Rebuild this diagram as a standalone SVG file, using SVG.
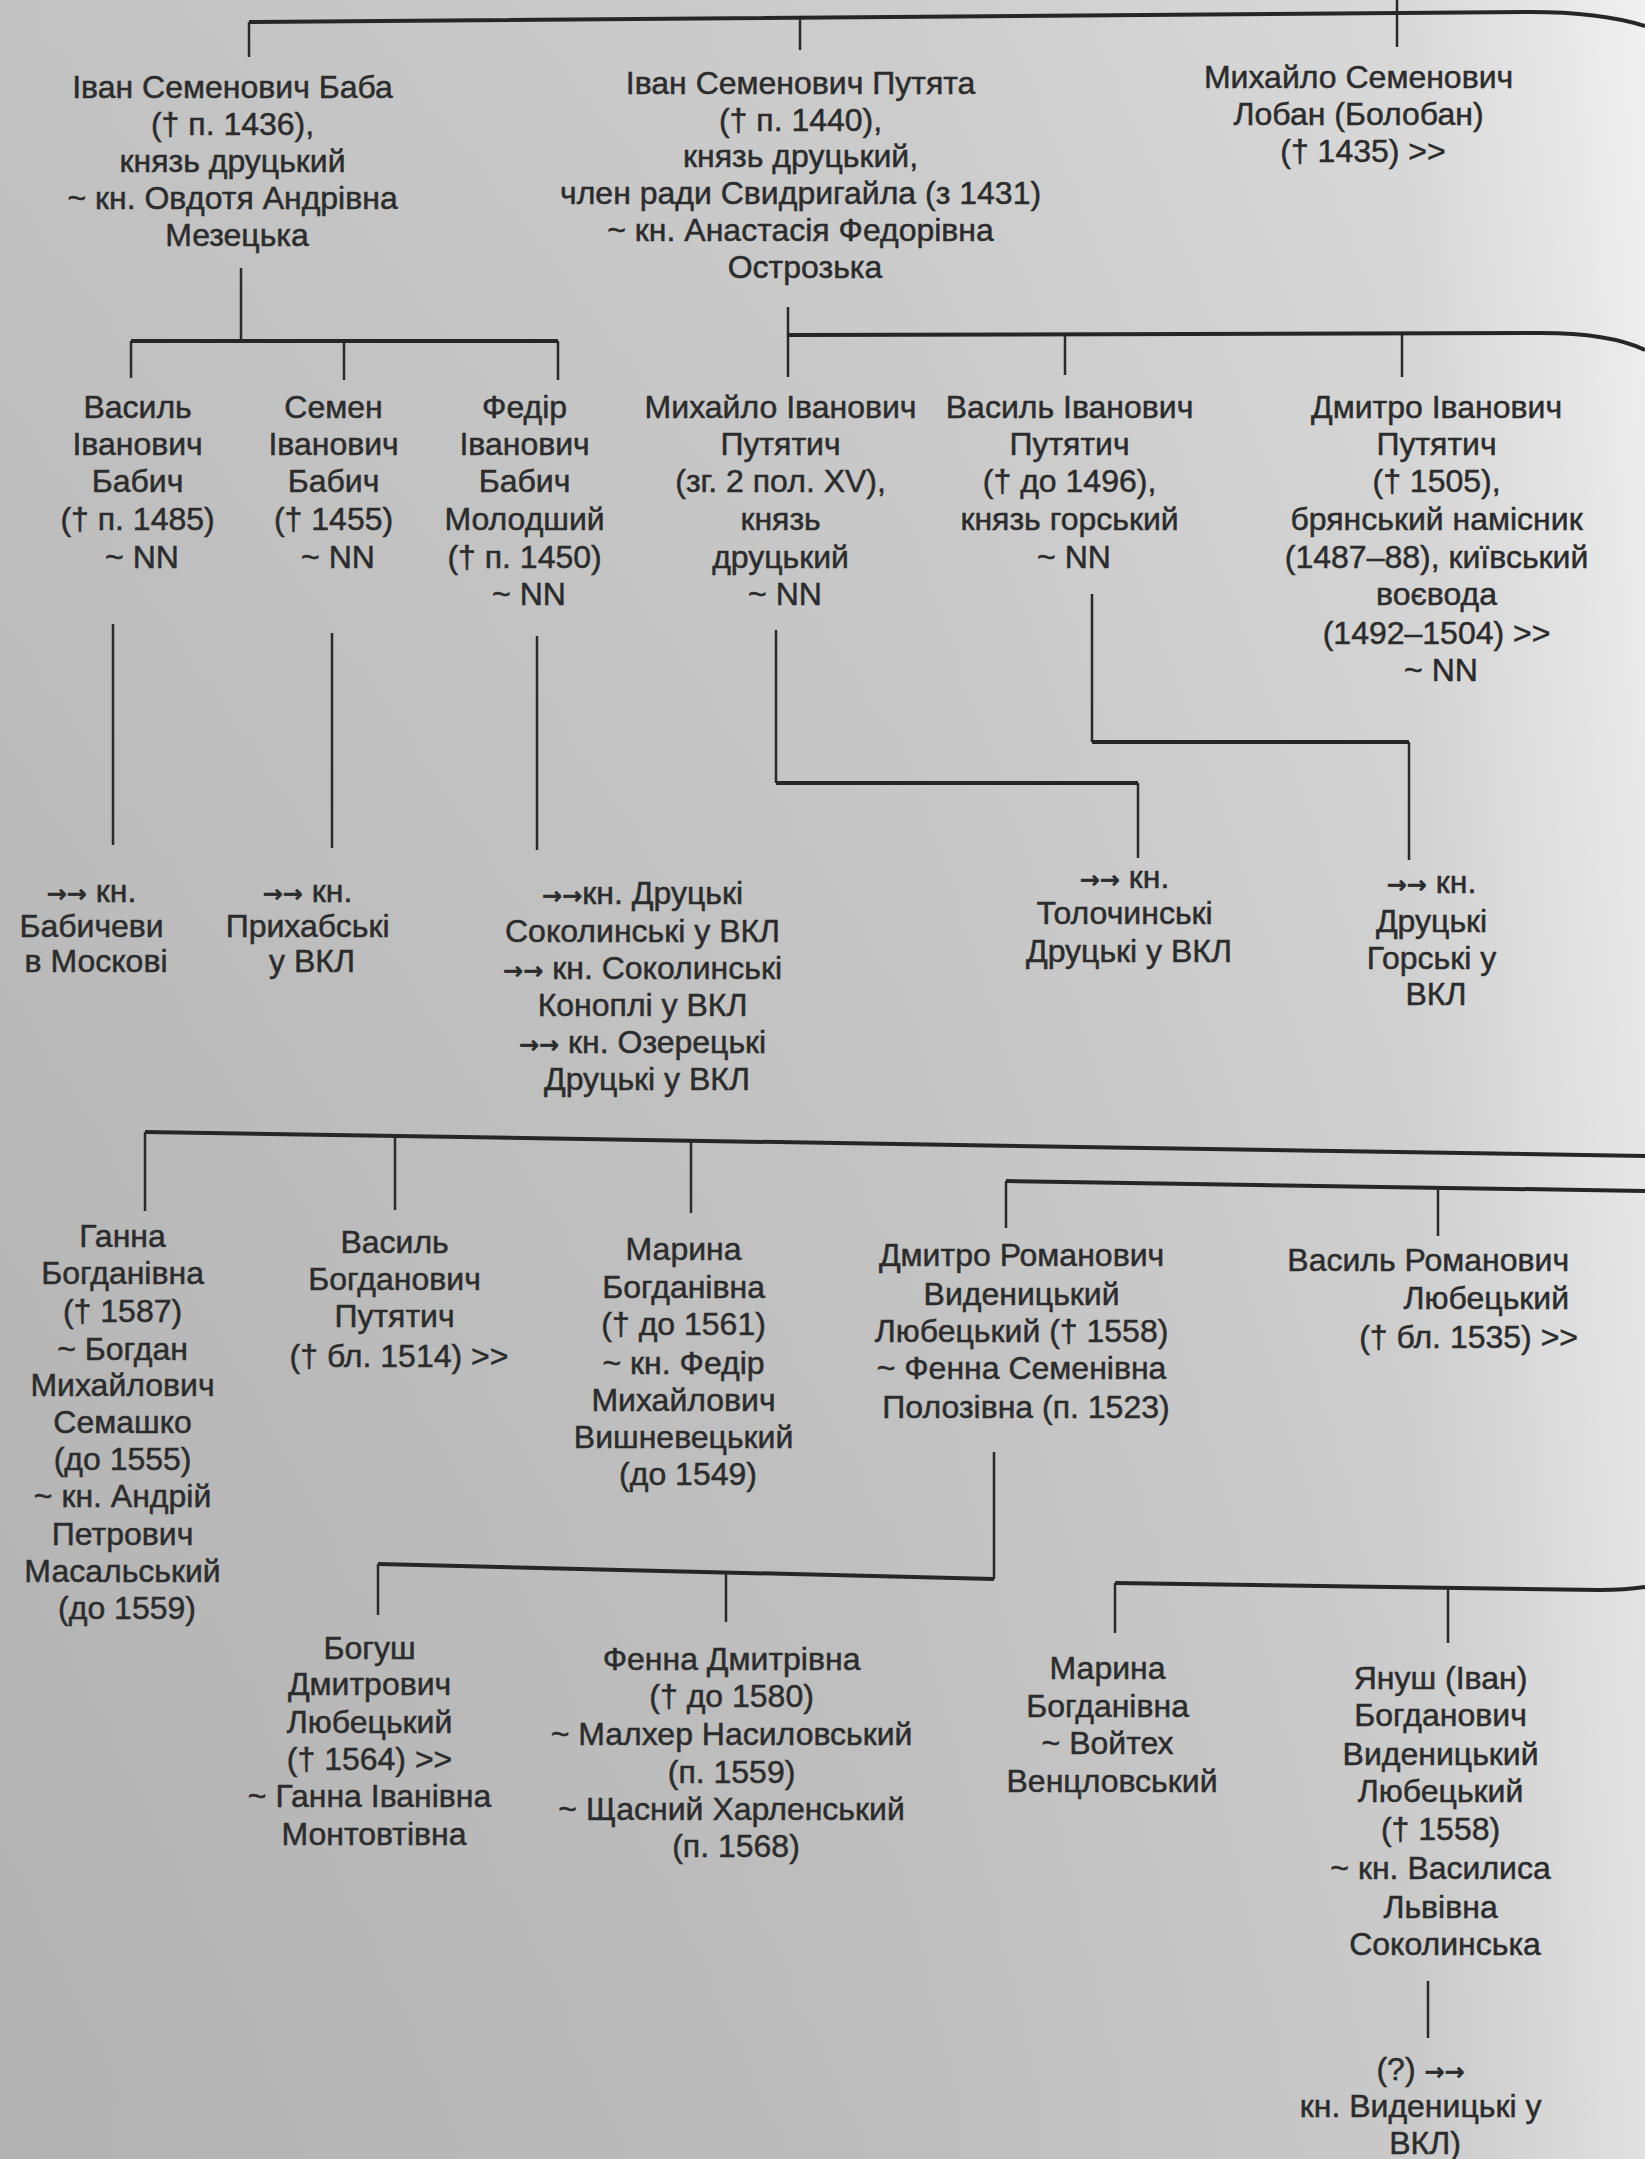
<svg xmlns="http://www.w3.org/2000/svg" width="1645" height="2159" viewBox="0 0 1645 2159">
<defs>
<linearGradient id="bg" x1="0" y1="0" x2="1" y2="0">
<stop offset="0" stop-color="#bdbdbd"/>
<stop offset="0.55" stop-color="#c9c9c9"/>
<stop offset="0.86" stop-color="#d6d6d6"/>
<stop offset="1" stop-color="#efefef"/>
</linearGradient>
<linearGradient id="bgv" x1="0" y1="0" x2="0" y2="1">
<stop offset="0" stop-color="#ffffff" stop-opacity="0.08"/>
<stop offset="1" stop-color="#000000" stop-opacity="0.06"/>
</linearGradient>
<style>
.t{font-family:"Liberation Sans",Arial,sans-serif;font-size:32px;fill:#2c2c2c;stroke:#2c2c2c;stroke-width:0.5;text-anchor:middle}
.e{text-anchor:end}
.a{font-family:"DejaVu Sans",sans-serif;font-size:24px;font-weight:bold}
.c{fill:none;stroke:#2a2a2a;stroke-width:2.5}
.h{fill:none;stroke:#262626;stroke-width:4}
</style>
</defs>
<rect width="1645" height="2159" fill="url(#bg)"/>
<rect width="1645" height="2159" fill="url(#bgv)"/>

<g id="connectors">
<path class="h" d="M249,22 L1530,12 Q1600,12 1645,26"/>
<path class="c" d="M249,57 V22 M800,19 V50 M1397,0 V47"/>
<path class="c" d="M241,268 V341 M131,378 V341 M558,380 V341 M344,341 V380"/>
<path class="h" d="M131,341 H558"/>
<path class="c" d="M788,307 V377 M1065,333 V375 M1402,333 V377"/>
<path class="h" d="M788,335 L1540,333 Q1610,333 1645,350"/>
<path class="c" d="M113,624 V845 M332,633 V848 M537,636 V850"/>
<path class="c" d="M776,630 V783 M1138,783 V858"/>
<path class="h" d="M776,783 H1138"/>
<path class="c" d="M1092,594 V742 M1409,742 V860"/>
<path class="h" d="M1092,742 H1409"/>
<path class="h" d="M145,1132 L1645,1156"/>
<path class="c" d="M145,1132 V1211 M395,1136 V1210 M691,1141 V1213"/>
<path class="h" d="M1006,1181 L1645,1191"/>
<path class="c" d="M1006,1181 V1228 M1438,1186 V1236"/>
<path class="h" d="M994,1579 L378,1564"/>
<path class="c" d="M994,1452 V1579 M378,1564 V1615 M726,1572 V1622"/>
<path class="h" d="M1115,1583 L1600,1590 Q1625,1590 1645,1587"/>
<path class="c" d="M1115,1583 V1633 M1448,1588 V1643"/>
<path class="c" d="M1428,1981 V2038"/>
</g>

<g id="n-ivan-baba"><text class="t">
<tspan x="237" y="98">Іван Семенович Баба</tspan>
<tspan x="237" y="135">(† п. 1436),</tspan>
<tspan x="237" y="172">князь друцький</tspan>
<tspan x="237" y="209">~ кн. Овдотя Андрівна</tspan>
<tspan x="237" y="246">Мезецька</tspan>
</text></g>

<g id="n-ivan-putyata"><text class="t">
<tspan x="805" y="94">Іван  Семенович Путята</tspan>
<tspan x="805" y="131">(† п. 1440),</tspan>
<tspan x="805" y="167">князь друцький,</tspan>
<tspan x="805" y="204">член ради Свидригайла (з 1431)</tspan>
<tspan x="805" y="241">~ кн. Анастасія Федорівна</tspan>
<tspan x="805" y="278">Острозька</tspan>
</text></g>

<g id="n-mykhailo-loban"><text class="t">
<tspan x="1363" y="88">Михайло Семенович</tspan>
<tspan x="1363" y="125">Лобан (Болобан)</tspan>
<tspan x="1363" y="162">(† 1435) &gt;&gt;</tspan>
</text></g>

<g id="n-vasyl-babych"><text class="t">
<tspan x="142" y="418">Василь</tspan>
<tspan x="142" y="455">Іванович</tspan>
<tspan x="142" y="492">Бабич</tspan>
<tspan x="142" y="530">(† п. 1485)</tspan>
<tspan x="142" y="568">~ NN</tspan>
</text></g>

<g id="n-semen-babych"><text class="t">
<tspan x="338" y="418">Семен</tspan>
<tspan x="338" y="455">Іванович</tspan>
<tspan x="338" y="492">Бабич</tspan>
<tspan x="338" y="530">(† 1455)</tspan>
<tspan x="338" y="568">~ NN</tspan>
</text></g>

<g id="n-fedir-babych"><text class="t">
<tspan x="529" y="418">Федір</tspan>
<tspan x="529" y="455">Іванович</tspan>
<tspan x="529" y="492">Бабич</tspan>
<tspan x="529" y="530">Молодший</tspan>
<tspan x="529" y="568">(† п. 1450)</tspan>
<tspan x="529" y="605">~ NN</tspan>
</text></g>

<g id="n-mykhailo-putyatych"><text class="t">
<tspan x="785" y="418">Михайло Іванович</tspan>
<tspan x="785" y="455">Путятич</tspan>
<tspan x="785" y="492">(зг. 2 пол. XV),</tspan>
<tspan x="785" y="530">князь</tspan>
<tspan x="785" y="568">друцький</tspan>
<tspan x="785" y="605">~ NN</tspan>
</text></g>

<g id="n-vasyl-putyatych"><text class="t">
<tspan x="1074" y="418">Василь Іванович</tspan>
<tspan x="1074" y="455">Путятич</tspan>
<tspan x="1074" y="492">(† до 1496),</tspan>
<tspan x="1074" y="530">князь горський</tspan>
<tspan x="1074" y="568">~ NN</tspan>
</text></g>

<g id="n-dmytro-putyatych"><text class="t">
<tspan x="1441" y="418">Дмитро Іванович</tspan>
<tspan x="1441" y="455">Путятич</tspan>
<tspan x="1441" y="492">(†  1505),</tspan>
<tspan x="1441" y="530">брянський намісник</tspan>
<tspan x="1441" y="568">(1487–88),  київський</tspan>
<tspan x="1441" y="605">воєвода</tspan>
<tspan x="1441" y="644">(1492–1504) &gt;&gt;</tspan>
<tspan x="1441" y="681">~ NN</tspan>
</text></g>

<g id="n-babychevy"><text class="t">
<tspan x="96" y="902"><tspan class="a">→→</tspan> кн.</tspan>
<tspan x="96" y="937">Бабичеви</tspan>
<tspan x="96" y="972">в Москові</tspan>
</text></g>

<g id="n-prykhabski"><text class="t">
<tspan x="312" y="902"><tspan class="a">→→</tspan> кн.</tspan>
<tspan x="312" y="937">Прихабські</tspan>
<tspan x="312" y="972">у ВКЛ</tspan>
</text></g>

<g id="n-sokolynski"><text class="t">
<tspan x="647" y="904"><tspan class="a">→→</tspan>кн. Друцькі</tspan>
<tspan x="647" y="942">Соколинські у ВКЛ</tspan>
<tspan x="647" y="979"><tspan class="a">→→</tspan> кн. Соколинські</tspan>
<tspan x="647" y="1016">Коноплі у ВКЛ</tspan>
<tspan x="647" y="1053"><tspan class="a">→→</tspan> кн. Озерецькі</tspan>
<tspan x="647" y="1090">Друцькі у ВКЛ</tspan>
</text></g>

<g id="n-tolochynski"><text class="t">
<tspan x="1129" y="888"><tspan class="a">→→</tspan> кн.</tspan>
<tspan x="1129" y="924">Толочинські</tspan>
<tspan x="1129" y="962">Друцькі у ВКЛ</tspan>
</text></g>

<g id="n-horski"><text class="t">
<tspan x="1436" y="893"><tspan class="a">→→</tspan> кн.</tspan>
<tspan x="1436" y="932">Друцькі</tspan>
<tspan x="1436" y="969">Горські у</tspan>
<tspan x="1436" y="1005">ВКЛ</tspan>
</text></g>

<g id="n-hanna"><text class="t">
<tspan x="127" y="1247">Ганна</tspan>
<tspan x="127" y="1284">Богданівна</tspan>
<tspan x="127" y="1322">(†  1587)</tspan>
<tspan x="127" y="1360">~  Богдан</tspan>
<tspan x="127" y="1396">Михайлович</tspan>
<tspan x="127" y="1433">Семашко</tspan>
<tspan x="127" y="1470">(до 1555)</tspan>
<tspan x="127" y="1507">~  кн. Андрій</tspan>
<tspan x="127" y="1545">Петрович</tspan>
<tspan x="127" y="1582">Масальський</tspan>
<tspan x="127" y="1619">(до 1559)</tspan>
</text></g>

<g id="n-vasyl-bohdanovych"><text class="t">
<tspan x="399" y="1253">Василь</tspan>
<tspan x="399" y="1290">Богданович</tspan>
<tspan x="399" y="1327">Путятич</tspan>
<tspan x="399" y="1367">(†  бл. 1514) &gt;&gt;</tspan>
</text></g>

<g id="n-maryna-vyshnevetska"><text class="t">
<tspan x="688" y="1260">Марина</tspan>
<tspan x="688" y="1298">Богданівна</tspan>
<tspan x="688" y="1335">(†  до 1561)</tspan>
<tspan x="688" y="1374">~  кн. Федір</tspan>
<tspan x="688" y="1411">Михайлович</tspan>
<tspan x="688" y="1448">Вишневецький</tspan>
<tspan x="688" y="1485">(до 1549)</tspan>
</text></g>

<g id="n-dmytro-romanovych"><text class="t">
<tspan x="1026" y="1266">Дмитро Романович</tspan>
<tspan x="1026" y="1305">Виденицький</tspan>
<tspan x="1026" y="1342">Любецький († 1558)</tspan>
<tspan x="1026" y="1379">~ Фенна Семенівна</tspan>
<tspan x="1026" y="1418">Полозівна (п. 1523)</tspan>
</text></g>

<g id="n-vasyl-romanovych"><text class="t e">
<tspan x="1578" y="1271">Василь Романович</tspan>
<tspan x="1578" y="1309">Любецький</tspan>
<tspan x="1578" y="1348">(† бл. 1535) &gt;&gt;</tspan>
</text></g>

<g id="n-bohush"><text class="t">
<tspan x="374" y="1659">Богуш</tspan>
<tspan x="374" y="1695">Дмитрович</tspan>
<tspan x="374" y="1733">Любецький</tspan>
<tspan x="374" y="1770">(† 1564) &gt;&gt;</tspan>
<tspan x="374" y="1807">~ Ганна Іванівна</tspan>
<tspan x="374" y="1845">Монтовтівна</tspan>
</text></g>

<g id="n-fenna"><text class="t">
<tspan x="736" y="1670">Фенна Дмитрівна</tspan>
<tspan x="736" y="1707">(† до 1580)</tspan>
<tspan x="736" y="1745">~ Малхер Насиловський</tspan>
<tspan x="736" y="1783">(п. 1559)</tspan>
<tspan x="736" y="1820">~ Щасний Харленський</tspan>
<tspan x="736" y="1857">(п. 1568)</tspan>
</text></g>

<g id="n-maryna-ventslovska"><text class="t">
<tspan x="1112" y="1679">Марина</tspan>
<tspan x="1112" y="1717">Богданівна</tspan>
<tspan x="1112" y="1754">~ Войтех</tspan>
<tspan x="1112" y="1792">Венцловський</tspan>
</text></g>

<g id="n-yanush"><text class="t">
<tspan x="1445" y="1689">Януш (Іван)</tspan>
<tspan x="1445" y="1726">Богданович</tspan>
<tspan x="1445" y="1765">Виденицький</tspan>
<tspan x="1445" y="1802">Любецький</tspan>
<tspan x="1445" y="1840">(† 1558)</tspan>
<tspan x="1445" y="1879">~ кн. Василиса</tspan>
<tspan x="1445" y="1918">Львівна</tspan>
<tspan x="1445" y="1955">Соколинська</tspan>
</text></g>

<g id="n-vydenytski"><text class="t">
<tspan x="1425" y="2080">(?) <tspan class="a">→→</tspan></tspan>
<tspan x="1425" y="2117">кн. Виденицькі у</tspan>
<tspan x="1425" y="2154">ВКЛ)</tspan>
</text></g>
</svg>
